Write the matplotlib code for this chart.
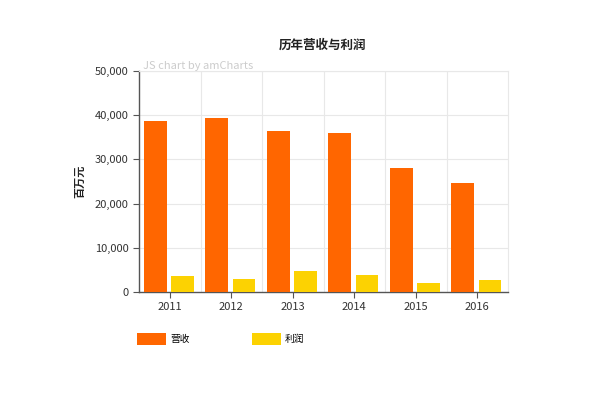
import matplotlib.pyplot as plt
import numpy as np

plt.rcParams['font.family'] = ['Noto Sans CJK SC', 'DejaVu Sans']

# dados
anos = ['2011', '2012', '2013', '2014', '2015', '2016']
receita = [38700, 39300, 36400, 36000, 28100, 24700]
lucro = [3550, 2950, 4850, 3800, 2050, 2650]

fig = plt.figure(figsize=(6, 3.95), dpi=100)
ax = fig.add_axes([0.2317, 0.2608, 0.615, 0.5595])

x = np.arange(len(anos))
b1 = ax.bar(x - 0.235, receita, width=0.37, color='#FF6600', label='营收', zorder=3)
b2 = ax.bar(x + 0.205, lucro, width=0.37, color='#FCD202', label='利润', zorder=3)

ax.set_xlim(-0.5, len(anos) - 0.5)
ax.set_ylim(0, 50000)
ax.set_yticks(np.arange(0, 50001, 10000))
ax.set_yticklabels([f'{v:,}' for v in range(0, 50001, 10000)])
ax.set_xticks(x)
ax.set_xticklabels(anos)

# grade
for v in range(10000, 50001, 10000):
    ax.axhline(v, color='#e8e8e8', lw=0.8, zorder=1)
for b in np.arange(0.5, len(anos) - 0.5, 1):
    ax.axvline(b, color='#e8e8e8', lw=0.8, zorder=1)

for s in ['top', 'right']:
    ax.spines[s].set_color('#e8e8e8')
    ax.spines[s].set_linewidth(0.8)
for s in ['left', 'bottom']:
    ax.spines[s].set_color('#555555')
    ax.spines[s].set_linewidth(1.0)

ax.tick_params(axis='both', colors='#555555', labelcolor='#333333', labelsize=8, length=4, width=0.8)

ax.set_ylabel('百万元', fontsize=8, fontweight='bold', color='#222222', labelpad=6)
fig.text(0.538, 0.885, '历年营收与利润', ha='center', va='center', fontsize=9, fontweight='bold', color='#222222')
fig.text(0.238, 0.832, 'JS chart by amCharts', ha='left', va='center', fontsize=8, color='#cccccc')

# legenda
fig.legend(handles=[b1, b2], loc='upper left', bbox_to_anchor=(0.214, 0.178), ncol=2,
           frameon=False, fontsize=7, handlelength=3.0, handleheight=1.45,
           columnspacing=6.4, handletextpad=0.4)

plt.savefig('out.png', dpi=100)
